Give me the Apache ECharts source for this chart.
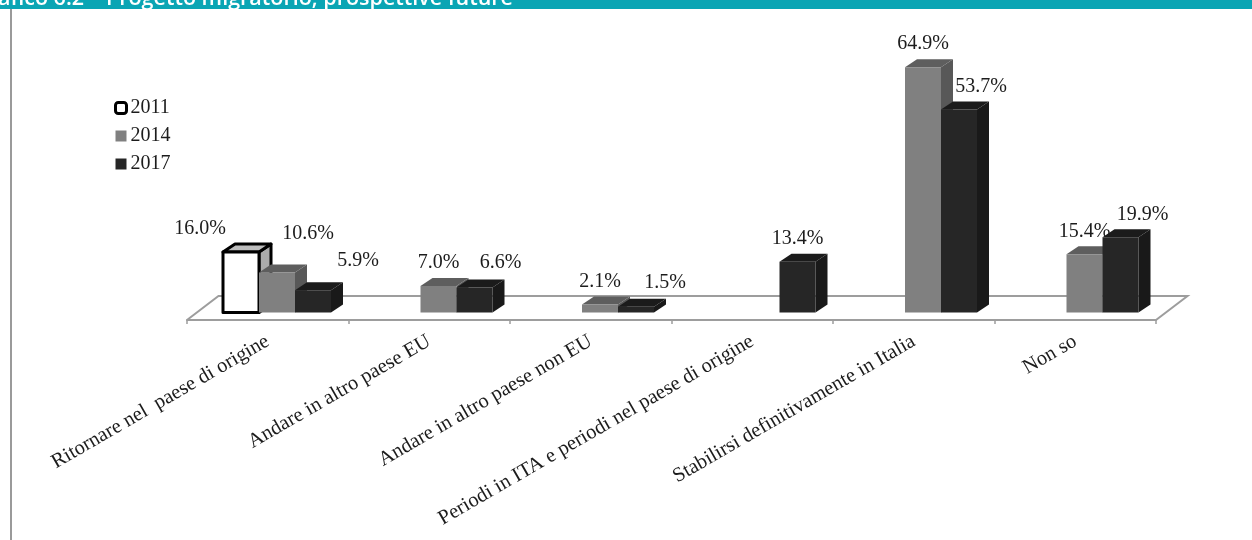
<!DOCTYPE html>
<html>
<head>
<meta charset="utf-8">
<style>html,body{margin:0;padding:0;background:#fff}#c{width:1252px;height:540px}</style>
<script src="https://cdn.jsdelivr.net/npm/echarts@6/dist/echarts.min.js"></script>
</head>
<body>
<div id="c"></div>
<script>
const categories = ['Ritornare nel  paese di origine', 'Andare in altro paese EU', 'Andare in altro paese non EU', 'Periodi in ITA e periodi nel paese di origine', 'Stabilirsi definitivamente in Italia', 'Non so'];
const seriesNames = ['2011', '2014', '2017'];
const values2011 = [16.0, null, null, null, null, null];
const values2014 = [10.6, 7.0, 2.1, null, 64.9, 15.4];
const values2017 = [5.9, 6.6, 1.5, 13.4, 53.7, 19.9];

// Layout / style settings
const SERIF = '"Liberation Serif", "Times New Roman", serif';
const TXT = '#1c1c1c';
const LINE = '#9d9d9d';
const DEPTH_X = 12, DEPTH_Y = 8;
const BASE_Y = 312.5, PX_PER_PCT = 3.78, AXIS_MAX = 70;
const BAR_RATIO = 36 / 161.5, GROUP_START = -44.75 / 161.5;
const styles = [
  { front: '#ffffff', top: '#bdbdbd', side: '#ababab', stroke: '#000', lw: 3 },
  { front: '#808080', top: '#5e5e5e', side: '#585858', stroke: null, lw: 0 },
  { front: '#262626', top: '#1b1b1b', side: '#191919', stroke: null, lw: 0 }
];
// label displacement from the bar's front-top centre: [seriesIndex][categoryIndex]
const labelShift = [
  { 0: [-41, -23] },
  { 0: [31, -39] },
  { 0: [45, -29], 1: [26, -25], 2: [29, -24], 4: [22, -23], 5: [22, -23] }
];

function barRenderer(si) {
  return function (params, api) {
    const v = api.value(1);
    if (v == null || isNaN(v)) return;
    const st = styles[si];
    const band = api.size([1, 0])[0];
    const c0 = api.coord([api.value(0), 0]);
    const c1 = api.coord([api.value(0), v]);
    const w = band * BAR_RATIO;
    const x0 = c0[0] + band * GROUP_START + si * w, x1 = x0 + w;
    const y0 = c0[1], y1 = c1[1];
    const dx = DEPTH_X, dy = DEPTH_Y;
    const shift = (labelShift[si][params.dataIndex]) || [0, -23];
    const stroke = st.stroke ? { stroke: st.stroke, lineWidth: st.lw, lineJoin: 'round' } : { stroke: null };
    const poly = (pts, fill) => ({
      type: 'polygon', shape: { points: pts },
      style: Object.assign({ fill: fill }, stroke)
    });
    return {
      type: 'group',
      children: [
        poly([[x1, y0], [x1 + dx, y0 - dy], [x1 + dx, y1 - dy], [x1, y1]], st.side),
        poly([[x0, y1], [x0 + dx, y1 - dy], [x1 + dx, y1 - dy], [x1, y1]], st.top),
        poly([[x0, y0], [x1, y0], [x1, y1], [x0, y1]], st.front),
        {
          type: 'text',
          style: {
            x: (x0 + x1) / 2 + shift[0], y: y1 + shift[1],
            text: v.toFixed(1) + '%', fill: TXT,
            font: '20px ' + SERIF, align: 'center', verticalAlign: 'middle'
          }
        }
      ]
    };
  };
}

function floorRenderer(params) {
  const g = params.coordSys;
  const frontY = g.y + g.height + 7.5, backY = frontY - 24, dx = 31.5;
  const L = g.x, R = g.x + g.width;
  return {
    type: 'polyline',
    shape: { points: [[L, frontY], [L + dx, backY], [R + dx, backY], [R, frontY]] },
    style: { fill: null, stroke: LINE, lineWidth: 2 }
  };
}

const toRows = arr => arr.map((v, i) => [i, v]);
const chart = echarts.init(document.getElementById('c'), null, { renderer: 'canvas' });
chart.setOption({
  animation: false,
  backgroundColor: '#fff',
  grid: { left: 187, width: 969, top: BASE_Y - PX_PER_PCT * AXIS_MAX, height: PX_PER_PCT * AXIS_MAX, containLabel: false, outerBoundsMode: 'none' },
  legend: {
    orient: 'vertical', left: 114, top: 97, padding: 0, itemWidth: 11, itemHeight: 11, itemGap: 6,
    selectedMode: false,
    textStyle: { fontFamily: SERIF, fontSize: 20, color: TXT, padding: [0, 0, 0, -1], lineHeight: 22 },
    data: [
      { name: '2011', icon: 'roundRect', itemStyle: { color: '#fff', borderColor: '#000', borderWidth: 3 } },
      { name: '2014', icon: 'rect', itemStyle: { color: '#808080', borderWidth: 0 } },
      { name: '2017', icon: 'rect', itemStyle: { color: '#262626', borderWidth: 0 } }
    ]
  },
  xAxis: {
    type: 'category', data: categories, offset: 7.5,
    axisLine: { onZero: false, lineStyle: { color: LINE, width: 2 } },
    axisTick: { show: true, alignWithLabel: false, length: 4, lineStyle: { color: LINE, width: 1.5 } },
    axisLabel: { interval: 0, rotate: 30, margin: 20, fontFamily: SERIF, fontSize: 20.5, color: TXT, hideOverlap: false }
  },
  yAxis: { type: 'value', min: 0, max: AXIS_MAX, show: false, splitLine: { show: false } },
  graphic: [
    { type: 'rect', shape: { x: 0, y: 0, width: 1252, height: 9 }, style: { fill: '#0aa5b4' }, z: 10 },
    { type: 'rect', shape: { x: 10, y: 9, width: 2, height: 531 }, style: { fill: '#9a9a9a' }, z: 10 },
    { type: 'text', z: 11, style: { x: 513, y: 10, text: 'Grafico 6.2 \u2013 Progetto migratorio, prospettive future', fill: '#fff', font: '600 21.5px "Open Sans", sans-serif', align: 'right', verticalAlign: 'bottom' } }
  ],
  series: [
    { type: 'custom', name: 'floor', silent: true, coordinateSystem: 'cartesian2d', renderItem: floorRenderer, data: [[0, 0]], z: 1 },
    ...[values2011, values2014, values2017].map((vals, si) => ({
      type: 'custom', name: seriesNames[si], coordinateSystem: 'cartesian2d',
      renderItem: barRenderer(si), data: toRows(vals), encode: { x: 0, y: 1 }, z: 2, silent: true,
      itemStyle: { color: styles[si].front }
    }))
  ]
});
</script>
</body>
</html>
